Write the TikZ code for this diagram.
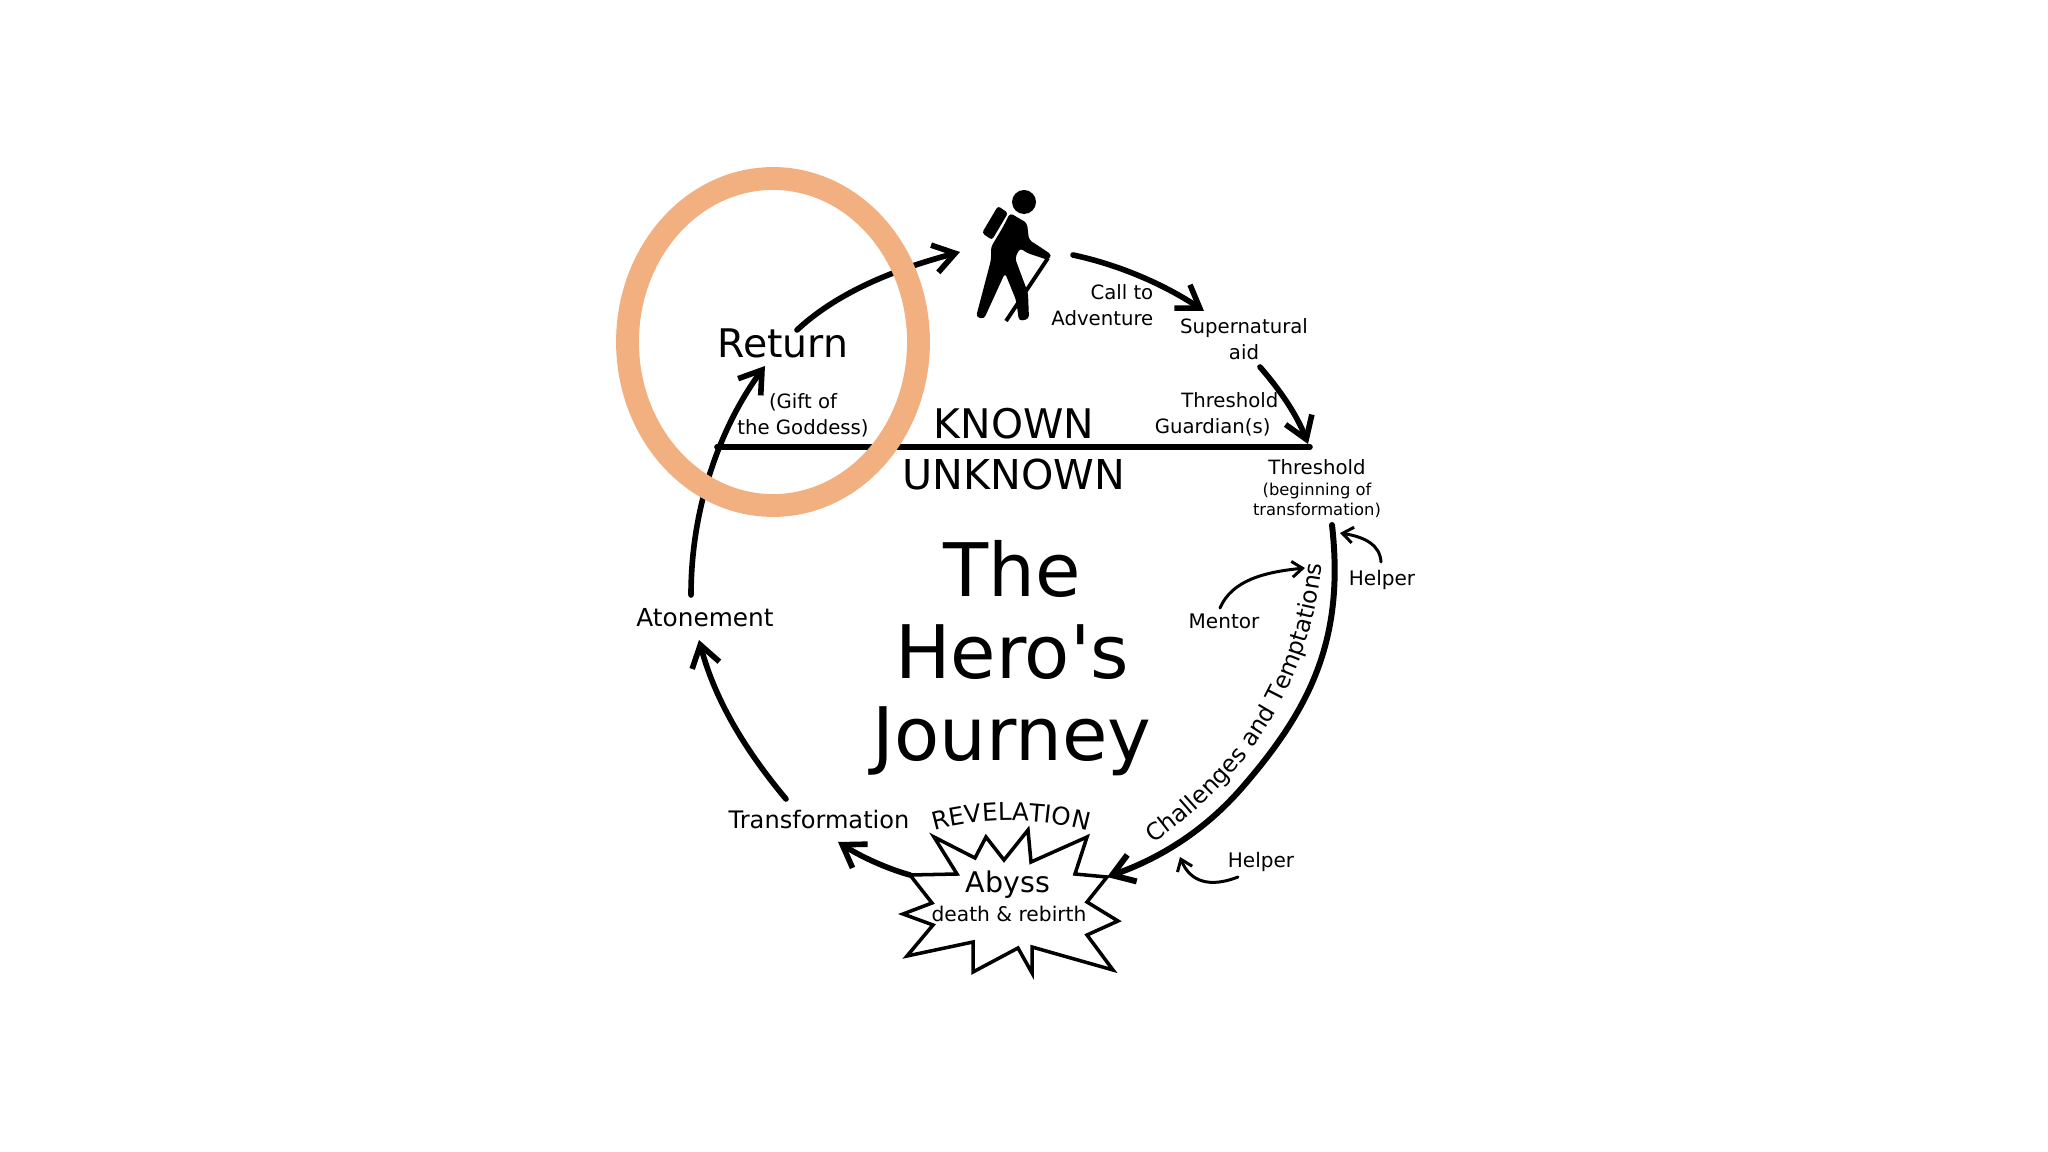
\documentclass[tikz,border=0pt]{standalone}
\usepackage{fontspec}
\setmainfont{DejaVu Sans}
\usetikzlibrary{arrows.meta,decorations.text}

\definecolor{ringorange}{HTML}{F2AF80}
\newcommand{\smalltype}{\fontsize{5.6}{7.4}\selectfont}
\newcommand{\tinytype}{\fontsize{4.65}{5.7}\selectfont}
\newcommand{\alongtype}{\fontsize{6.7}{8}\selectfont}
\newcommand{\revtype}{\fontsize{7}{8}\selectfont}

\tikzset{
  every node/.style={inner sep=0pt},
  mainarrow/.style={-{Straight Barb[length=6pt,width=8pt]}, line width=1.6pt, line cap=round},
  sidearrow/.style={-{Straight Barb[length=3pt,width=4.5pt]}, line width=0.85pt, line cap=round},
  horizon/.style={line width=1.6pt, line cap=round}
}

\begin{document}
\begin{tikzpicture}[x=0.01cm, y=-0.01cm, font=\smalltype]
  \useasboundingbox (0,0) rectangle (2048,1152);

  % Ends of the connectors
  \foreach \name/\x/\y in {
    returnout/797/330, hikerin/960/252,
    hikerout/1073/255, aidin/1204/311,
    aidout/1260/367, thresholdin/1308/444,
    trialstart/1332/525, abyssin/1107/877,
    abyssout/910/875, changein/838/842,
    changeout/786/799, atonein/699/640,
    atoneout/691/595, returnin/765/366,
    lineleft/717/447, lineright/1310/447,
    mentorout/1220/608, mentorin/1305/568,
    topout/1381/562, topin/1340/533,
    lowout/1238/877, lowin/1180/857}
    \coordinate (\name) at (\x,\y);

  % Horizon
  \draw[horizon] (lineleft) -- (lineright);

  % Cycle
  \draw[mainarrow] (returnout) .. controls (840,290) and (900,268) .. (hikerin);
  \draw[mainarrow] (hikerout) .. controls (1120,265) and (1165,285) .. (aidin);
  \draw[mainarrow] (aidout) .. controls (1280,390) and (1297,415) .. (thresholdin);
  \draw[mainarrow, line width=1.7pt] (trialstart) .. controls (1345,640) and (1310,710) .. (1240,790)
    .. controls (1200,835) and (1155,860) .. (abyssin);
  \draw[mainarrow] (changeout) .. controls (745,750) and (715,700) .. (atonein);
  \draw[mainarrow] (atoneout) .. controls (691,500) and (725,420) .. (returnin);

  % Abyss
  \draw[line width=1pt, fill=white, line join=miter] (934,837) -- (975,858) -- (986,837) -- (1004,860)
    -- (1028,830) -- (1031,862) -- (1087,837) -- (1075,874) -- (1107,877) -- (1087,902)
    -- (1118,921) -- (1087,935) -- (1113,970) -- (1032,947) -- (1032,973) -- (1018,948)
    -- (973,972) -- (973,942) -- (907,956) -- (933,925) -- (903,914) -- (932,903)
    -- (910,875) -- (957,874) -- cycle;
  \draw[mainarrow] (abyssout) .. controls (885,868) and (860,856) .. (changein);

  % Helpers
  \draw[sidearrow] (mentorout) .. controls (1232,580) and (1265,572) .. (mentorin);
  \draw[sidearrow] (topout) .. controls (1380,545) and (1365,537) .. (topin);
  \draw[sidearrow] (lowout) .. controls (1210,888) and (1190,882) .. (lowin);

  % Hiker
  \fill (1024,202) circle (12);
  \fill[rounded corners=0.8pt] (982,233) -- (998,206) -- (1008,213) -- (992,240) -- cycle;
  \fill[rounded corners=1pt] (1010,213) -- (1027,223) -- (1029,240) -- (1034,243) -- (1052,255)
    -- (1048,260) -- (1027,253) -- (1020,248) -- (1015,258) -- (1028,293) -- (1029,319)
    -- (1019,321) -- (1016,300) -- (1005,273) -- (984,319) -- (976,317) -- (991,260)
    -- (991,247) -- (1003,227) -- cycle;
  \draw[line width=1.1pt] (1048,258) -- (1006,321);

  % Single line labels
  \foreach \name/\x/\y/\size/\text in {
    return/783/343/11.2/Return,
    known/1014/424/11.6/KNOWN,
    unknown/1014/475/11.7/UNKNOWN,
    atonement/705/618/7.05/Atonement,
    transformation/819/820/6.85/Transformation,
    abyss/1008/885/8.1/Abyss,
    rebirth/1009/914/5.75/death \& rebirth,
    threshold/1317/467/5.6/Threshold,
    helpertop/1382/580/5.7/Helper,
    helperlow/1261/862/5.7/Helper,
    mentor/1224/621/5.7/Mentor}
    \node[font=\fontsize{\size}{\size}\selectfont] (\name) at (\x,\y) {\text};

  % Two line labels
  \node[align=right, anchor=east] (adventure) at (1154,305) {Call to\\Adventure};
  \node[align=center] (aid) at (1244,339) {Supernatural\\aid};
  \node[align=right, anchor=east] (guardian) at (1279,414) {Threshold\\Guardian(s)\hspace*{2.2pt}};
  \node[align=center, font=\tinytype] (beginning) at (1317,500) {(beginning of\\transformation)};
  \node[align=center] (goddess) at (803,415) {(Gift of\\the Goddess)};

  % Title
  \node[align=center, font=\fontsize{21}{23.3}\selectfont] (title) at (1012,658) {The\\Hero\textquotesingle s\\Journey};

  % Lettering along the curves
  \path[decorate, decoration={text along path, text align=center,
    text={|\revtype|REVELATION}}] (930,832) .. controls (975,817) and (1045,817) .. (1092,832);
  \path[decorate, decoration={text along path, text align=center,
    text={|\alongtype|Challenges and Temptations}}] (1147,848) .. controls (1232,790) and (1310,700) .. (1323,556);

  % Highlight
  \draw[ringorange, line width=6.5pt] (773,342) ellipse (145.5 and 163.5);

\end{tikzpicture}
\end{document}
